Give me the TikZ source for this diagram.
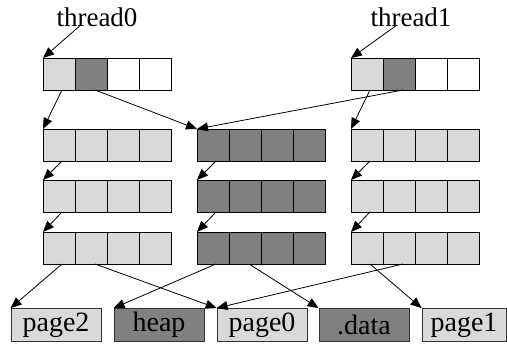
\documentclass[tikz,border=0pt]{standalone}
\usepackage{fontspec}
\setmainfont{Liberation Serif}
\usetikzlibrary{arrows.meta}
\definecolor{lightcell}{HTML}{D9D9D9}
\definecolor{darkcell}{HTML}{808080}
\begin{document}
\begin{tikzpicture}[x=1pt,y=-1pt,
  cell/.style={draw=black,line width=0.8pt,minimum width=32pt,minimum height=32pt,inner sep=0pt,outer sep=0pt},
  pagebox/.style={draw=black!80,line width=0.8pt,minimum width=90pt,minimum height=33pt,inner sep=0pt,
    font=\fontsize{28}{30}\selectfont},
  lbl/.style={font=\fontsize{27}{30}\selectfont,inner sep=0pt},
  ptr/.style={line width=0.8pt,-{Triangle[length=11pt,width=9pt]}}]
\useasboundingbox (0,0) rectangle (507,346);
% rows of cells: name, x0, y0, colours
\foreach \nm/\xo/\yo/\ca/\cb/\cc/\cd in {
  tl/43/58/lightcell/darkcell/white/white,
  tr/351/58/lightcell/darkcell/white/white,
  La/43/129/lightcell/lightcell/lightcell/lightcell,
  Lb/43/180/lightcell/lightcell/lightcell/lightcell,
  Lc/43/232/lightcell/lightcell/lightcell/lightcell,
  Ma/197/129/darkcell/darkcell/darkcell/darkcell,
  Mb/197/180/darkcell/darkcell/darkcell/darkcell,
  Mc/197/232/darkcell/darkcell/darkcell/darkcell,
  Ra/351/129/lightcell/lightcell/lightcell/lightcell,
  Rb/351/180/lightcell/lightcell/lightcell/lightcell,
  Rc/351/232/lightcell/lightcell/lightcell/lightcell}{
  \node[cell,fill=\ca] (\nm0) at (\xo+16,\yo+16) {};
  \node[cell,fill=\cb] (\nm1) at (\xo+48,\yo+16) {};
  \node[cell,fill=\cc] (\nm2) at (\xo+80,\yo+16) {};
  \node[cell,fill=\cd] (\nm3) at (\xo+112,\yo+16) {};
}
% labels
\node[lbl] (t0) at (97,17) {thread0};
\node[lbl] (t1) at (411,17) {thread1};
% bottom boxes
\node[pagebox,fill=lightcell] (page2) at (56,325) {page2};
\node[pagebox,fill=darkcell] (heap) at (159,325) {heap};
\node[pagebox,fill=lightcell] (page0) at (262,325) {page0};
\node[pagebox,fill=darkcell] (data) at (364,325) {.data};
\node[pagebox,fill=lightcell,minimum width=84pt] (page1) at (464,325) {page1};
% arrows
\draw[ptr] ([xshift=-17pt,yshift=1pt]t0.south) -- (tl0.north west);
\draw[ptr] ([xshift=-15pt,yshift=1pt]t1.south) -- (tr0.north west);
\draw[ptr] ([xshift=3pt]tl0.south) -- (La0.north west);
\draw[ptr] ([xshift=4pt]tl1.south) -- (Ma0.north west);
\draw[ptr] ([xshift=4pt]tr1.south) -- (Ma0.north west);
\draw[ptr] ([xshift=3pt]tr0.south) -- (Ra0.north west);
\foreach \c in {L,M,R}{
  \draw[ptr] ([xshift=3pt]\c a0.south) -- (\c b0.north west);
  \draw[ptr] ([xshift=3pt]\c b0.south) -- (\c c0.north west);
}
\draw[ptr] ([xshift=3pt]Lc0.south) -- (page2.north west);
\draw[ptr] ([xshift=4pt]Lc1.south) -- (page0.north west);
\draw[ptr] ([xshift=3pt]Mc0.south) -- (heap.north west);
\draw[ptr] ([xshift=4pt]Mc1.south) -- (data.north west);
\draw[ptr] ([xshift=3pt]Rc0.south) -- (page1.north west);
\draw[ptr] ([xshift=4pt]Rc1.south) -- (page0.north west);
\end{tikzpicture}
\end{document}
